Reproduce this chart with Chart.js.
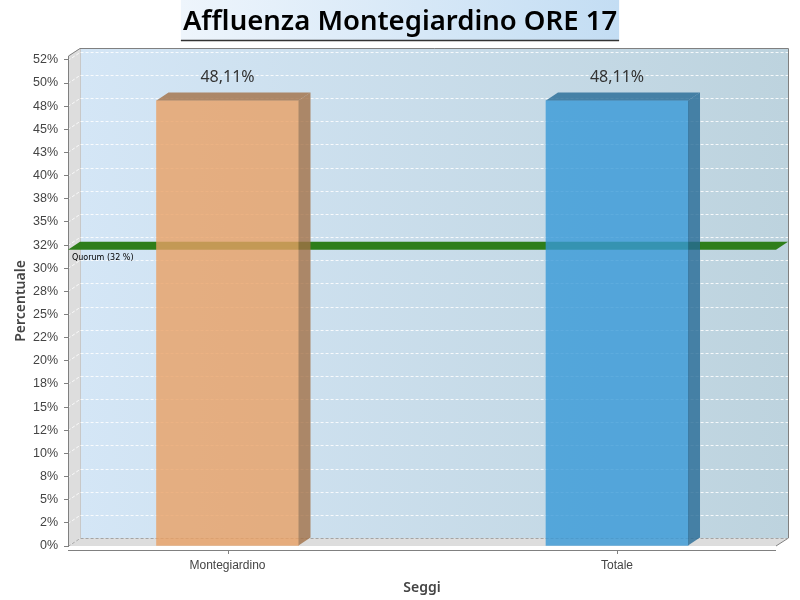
<!DOCTYPE html>
<html lang="it">
<head>
    <meta charset="UTF-8">
    <title>Affluenza Montegiardino ORE 17</title>
    <script src="https://cdn.jsdelivr.net/npm/chart.js"></script>
    <style>
        body { margin: 0; background: #fff; }
    </style>
</head>
<body>
<canvas id="affluenzaChart" width="800" height="600"></canvas>

<script>
    // dati
    const categories = ['Montegiardino', 'Totale'];
    const affluenza = [48.11, 48.11];
    const yTickLabels = ['0%', '2%', '5%', '8%', '10%', '12%', '15%', '18%', '20%', '22%', '25%',
        '28%', '30%', '32%', '35%', '38%', '40%', '43%', '45%', '48%', '50%', '52%'];
    const quorum = 32;
    const quorumLabel = 'Quorum (32 %)';
    const titolo = 'Affluenza Montegiardino ORE 17';

    // stile
    const frontColors = ['rgba(232,160,100,0.8)', 'rgba(55,152,215,0.8)'];
    const darkColors = ['rgba(162,112,70,0.8)', 'rgba(38,106,150,0.8)'];
    const depthX = 12, depthY = 8;

    function fmt(v) {
        return v.toFixed(2).replace('.', ',') + '%';
    }

    // pareti 3D, griglia, titolo
    const wallsPlugin = {
        id: 'walls',
        beforeDraw(chart) {
            const ctx = chart.ctx;
            const { left: L, right: R, top: T, bottom: B } = chart.chartArea;
            const yScale = chart.scales.y;
            ctx.save();

            // titolo con riquadro sfumato
            ctx.font = '600 27.5px "Noto Sans"';
            const w = ctx.measureText(titolo).width;
            const x0 = 400 - w / 2 - 2, x1 = 400 + w / 2 + 2;
            const tg = ctx.createLinearGradient(x0, 0, x1, 0);
            tg.addColorStop(0, '#eef5fc');
            tg.addColorStop(1, '#c3ddf3');
            ctx.fillStyle = tg;
            ctx.fillRect(x0, 0, x1 - x0, 40);
            ctx.strokeStyle = '#333';
            ctx.lineWidth = 1.5;
            ctx.beginPath();
            ctx.moveTo(x0, 40.5);
            ctx.lineTo(x1, 40.5);
            ctx.stroke();
            ctx.fillStyle = '#000';
            ctx.textAlign = 'center';
            ctx.textBaseline = 'alphabetic';
            ctx.fillText(titolo, 400, 30);

            // parete di fondo
            const bg = ctx.createLinearGradient(L + depthX, 0, R + depthX, 0);
            bg.addColorStop(0, 'rgb(212,230,246)');
            bg.addColorStop(1, 'rgb(189,211,222)');
            ctx.fillStyle = bg;
            ctx.fillRect(L + depthX, T - depthY, R - L, B - T);

            // parete sinistra e pavimento
            ctx.fillStyle = '#dddddd';
            ctx.beginPath();
            ctx.moveTo(L, T); ctx.lineTo(L + depthX, T - depthY);
            ctx.lineTo(L + depthX, B - depthY); ctx.lineTo(L, B);
            ctx.closePath(); ctx.fill();
            ctx.beginPath();
            ctx.moveTo(L, B); ctx.lineTo(L + depthX, B - depthY);
            ctx.lineTo(R + depthX, B - depthY); ctx.lineTo(R, B);
            ctx.closePath(); ctx.fill();

            ctx.lineWidth = 1;
            ctx.strokeStyle = '#c8c8c8';
            ctx.beginPath();
            ctx.moveTo(L + depthX + 0.5, T - depthY);
            ctx.lineTo(L + depthX + 0.5, B - depthY);
            ctx.stroke();

            ctx.strokeStyle = '#808080';
            ctx.beginPath();
            ctx.moveTo(L + 0.5, B);
            ctx.lineTo(L + 0.5, T);
            ctx.lineTo(L + depthX, T - depthY + 0.5);
            ctx.lineTo(R + depthX + 0.5, T - depthY + 0.5);
            ctx.lineTo(R + depthX + 0.5, B - depthY);
            ctx.lineTo(R, B);
            ctx.stroke();

            // griglia tratteggiata
            ctx.setLineDash([3, 2]);
            yScale.ticks.forEach(t => {
                const y = Math.round(yScale.getPixelForValue(t.value)) + 0.5;
                ctx.strokeStyle = t.value === 0 ? 'rgba(150,150,150,0.8)' : 'rgba(255,255,255,0.85)';
                ctx.beginPath();
                ctx.moveTo(L, y);
                ctx.lineTo(L + depthX, y - depthY);
                ctx.lineTo(R + depthX, y - depthY);
                ctx.stroke();
            });
            ctx.setLineDash([]);

            // asse x spostato di 4px
            const xScale = chart.scales.x;
            ctx.strokeStyle = '#808080';
            ctx.beginPath();
            ctx.moveTo(L, B + 4.5);
            ctx.lineTo(R, B + 4.5);
            ctx.stroke();
            xScale.ticks.forEach(t => {
                const x = Math.round(xScale.getPixelForValue(t.value)) + 0.5;
                ctx.beginPath();
                ctx.moveTo(x, B + 4);
                ctx.lineTo(x, B + 8);
                ctx.stroke();
            });
            ctx.restore();
        },
        beforeDatasetsDraw(chart) {
            // linea del quorum
            const ctx = chart.ctx;
            const { left: L, right: R } = chart.chartArea;
            const y0 = chart.scales.y.getPixelForValue(quorum);
            ctx.save();
            ctx.fillStyle = 'rgb(46,126,26)';
            ctx.beginPath();
            ctx.moveTo(L, y0); ctx.lineTo(L + depthX, y0 - depthY);
            ctx.lineTo(R + depthX, y0 - depthY); ctx.lineTo(R, y0);
            ctx.closePath(); ctx.fill();
            ctx.fillStyle = '#000';
            ctx.font = '8px "DejaVu Sans"';
            ctx.textAlign = 'left';
            ctx.textBaseline = 'top';
            ctx.fillText(quorumLabel, L + 4, y0 + 4);
            ctx.restore();
        },
        afterDatasetsDraw(chart) {
            const ctx = chart.ctx;
            const meta = chart.getDatasetMeta(0);
            ctx.save();
            meta.data.forEach((bar, i) => {
                const l = bar.x - bar.width / 2, r = bar.x + bar.width / 2;
                ctx.fillStyle = darkColors[i];
                ctx.beginPath();
                ctx.moveTo(l, bar.y); ctx.lineTo(l + depthX, bar.y - depthY);
                ctx.lineTo(r + depthX, bar.y - depthY); ctx.lineTo(r, bar.y);
                ctx.closePath(); ctx.fill();
                ctx.beginPath();
                ctx.moveTo(r, bar.y); ctx.lineTo(r + depthX, bar.y - depthY);
                ctx.lineTo(r + depthX, bar.base - depthY); ctx.lineTo(r, bar.base);
                ctx.closePath(); ctx.fill();

                ctx.fillStyle = '#333';
                ctx.font = '16px "Noto Sans"';
                ctx.textAlign = 'center';
                ctx.textBaseline = 'alphabetic';
                ctx.fillText(fmt(affluenza[i]), bar.x, bar.y - 19);
            });
            ctx.restore();
        }
    };

    new Chart(document.getElementById('affluenzaChart'), {
        type: 'bar',
        data: {
            datasets: [{
                data: affluenza.map((v, i) => ({ x: i, y: v })),
                backgroundColor: frontColors,
                borderWidth: 0,
                barThickness: 142
            }]
        },
        options: {
            responsive: false,
            animation: false,
            layout: { padding: { top: 56, right: 24, left: 0, bottom: 0 } },
            plugins: {
                legend: { display: false },
                tooltip: { enabled: false }
            },
            scales: {
                x: {
                    type: 'linear',
                    min: -0.4095,
                    max: 1.4082,
                    offset: false,
                    grid: { display: false, drawTicks: false, offset: false },
                    border: { display: false },
                    afterBuildTicks: s => { s.ticks = categories.map((c, i) => ({ value: i })); },
                    afterFit: s => { s.height = 54; },
                    ticks: {
                        autoSkip: false,
                        maxRotation: 0,
                        padding: 12,
                        color: '#444',
                        font: { family: 'Liberation Sans', size: 12 },
                        callback: v => categories[v]
                    },
                    title: {
                        display: true,
                        text: 'Seggi',
                        color: '#444',
                        font: { family: 'Noto Sans', size: 14, weight: '600' },
                        padding: { top: 0, bottom: 4 }
                    }
                },
                y: {
                    min: 0,
                    max: 52.92,
                    afterFit: s => { s.width = 68; },
                    grid: { drawOnChartArea: false, tickLength: 4, color: '#808080' },
                    border: { color: '#808080' },
                    ticks: {
                        stepSize: 2.5,
                        includeBounds: false,
                        padding: 6,
                        color: '#444',
                        font: { family: 'Liberation Sans', size: 12.5 },
                        callback: (v, i) => yTickLabels[i]
                    },
                    title: {
                        display: true,
                        text: 'Percentuale',
                        color: '#444',
                        font: { family: 'Noto Sans', size: 14, weight: '600' },
                        padding: { top: 13, bottom: 0 }
                    }
                }
            }
        },
        plugins: [wallsPlugin]
    });
</script>
</body>
</html>
